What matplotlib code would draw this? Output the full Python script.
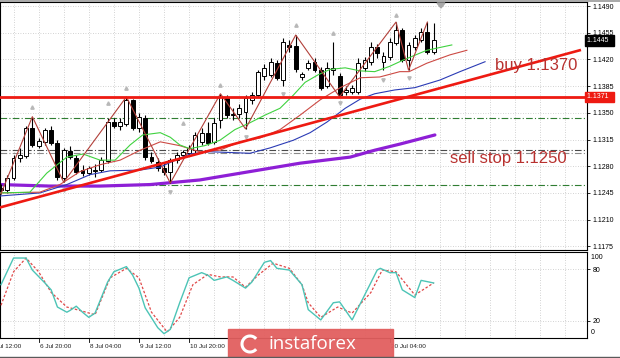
import numpy as np
import matplotlib
matplotlib.use("Agg")
matplotlib.rcParams["font.family"] = "Liberation Sans"
import matplotlib.pyplot as plt
import matplotlib.transforms as mtransforms
from matplotlib.patches import Rectangle, Arc

W, H = 620, 358

# H4 candles (bar 0 = left edge)
opens = [1.1252, 1.1249, 1.1265, 1.1291, 1.1294, 1.1330, 1.1307, 1.1312, 1.1328, 1.1310,
         1.1265, 1.1300, 1.1291, 1.1275, 1.1271, 1.1274, 1.1275, 1.1287, 1.1338, 1.1333,
         1.1335, 1.1367, 1.1330, 1.1343, 1.1292, 1.1286, 1.1278, 1.1273, 1.1288, 1.1295,
         1.1297, 1.1301, 1.1312, 1.1324, 1.1312, 1.1341, 1.1370, 1.1347, 1.1349, 1.1351,
         1.1367, 1.1373, 1.1398, 1.1400, 1.1415, 1.1393, 1.1439, 1.1438, 1.1397, 1.1409,
         1.1417, 1.1406, 1.1385, 1.1406, 1.1398, 1.1377, 1.1377, 1.1377, 1.1409, 1.1417,
         1.1436, 1.1417, 1.1423, 1.1442, 1.1459, 1.1419, 1.1436, 1.1445, 1.1456, 1.1430]
highs = [1.1257, 1.1269, 1.1295, 1.1304, 1.1333, 1.1345, 1.1317, 1.1330, 1.1333, 1.1314,
         1.1304, 1.1307, 1.1295, 1.1282, 1.1280, 1.1283, 1.1292, 1.1343, 1.1343, 1.1343,
         1.1371, 1.1368, 1.1350, 1.1347, 1.1299, 1.1291, 1.1284, 1.1291, 1.1299, 1.1301,
         1.1308, 1.1325, 1.1330, 1.1338, 1.1343, 1.1375, 1.1373, 1.1356, 1.1362, 1.1373,
         1.1377, 1.1406, 1.1414, 1.1422, 1.1419, 1.1448, 1.1445, 1.1452, 1.1404, 1.1419,
         1.1422, 1.1410, 1.1417, 1.1443, 1.1402, 1.1385, 1.1386, 1.1422, 1.1423, 1.1443,
         1.1440, 1.1430, 1.1448, 1.1469, 1.1461, 1.1443, 1.1452, 1.1461, 1.1469, 1.1468]
lows = [1.1244, 1.1245, 1.1262, 1.1286, 1.1291, 1.1305, 1.1304, 1.1308, 1.1308, 1.1262,
        1.1259, 1.1290, 1.1270, 1.1267, 1.1269, 1.1266, 1.1273, 1.1284, 1.1330, 1.1328,
        1.1333, 1.1328, 1.1325, 1.1288, 1.1284, 1.1274, 1.1269, 1.1258, 1.1284, 1.1291,
        1.1294, 1.1297, 1.1308, 1.1308, 1.1309, 1.1330, 1.1343, 1.1341, 1.1343, 1.1329,
        1.1362, 1.1371, 1.1393, 1.1397, 1.1393, 1.1385, 1.1430, 1.1404, 1.1393, 1.1406,
        1.1404, 1.1380, 1.1383, 1.1400, 1.1371, 1.1373, 1.1375, 1.1375, 1.1405, 1.1413,
        1.1422, 1.1406, 1.1419, 1.1439, 1.1417, 1.1406, 1.1432, 1.1443, 1.1427, 1.1427]
closes = [1.1249, 1.1265, 1.1291, 1.1295, 1.1330, 1.1308, 1.1313, 1.1328, 1.1310, 1.1266,
          1.1301, 1.1292, 1.1273, 1.1271, 1.1278, 1.1275, 1.1288, 1.1338, 1.1333, 1.1338,
          1.1367, 1.1330, 1.1345, 1.1292, 1.1287, 1.1278, 1.1273, 1.1288, 1.1295, 1.1299,
          1.1304, 1.1321, 1.1324, 1.1310, 1.1337, 1.1371, 1.1347, 1.1349, 1.1356, 1.1370,
          1.1373, 1.1404, 1.1409, 1.1417, 1.1396, 1.1443, 1.1436, 1.1407, 1.1401, 1.1415,
          1.1406, 1.1383, 1.1409, 1.1409, 1.1373, 1.1380, 1.1383, 1.1415, 1.1419, 1.1436,
          1.1428, 1.1424, 1.1443, 1.1459, 1.1419, 1.1439, 1.1448, 1.1456, 1.1430, 1.1445]

# alligator lines (lips / teeth / jaw), shifted past the last bar
lips_bar = [-0.2, 4.6, 7.3, 10.5, 13.1, 15.8, 18.2, 20.6, 22.6, 25.4, 27.0, 28.5, 30.1, 32.5, 34.9,
            37.3, 39.7, 42.1, 44.5, 46.6, 48.5, 50.6, 52.5, 54.9, 57.3, 59.6, 62.0, 64.1, 67.9, 71.9]
lips_val = [1.1245, 1.1246, 1.1271, 1.1292, 1.1296, 1.1288, 1.1288, 1.1308, 1.1321, 1.1324, 1.1318,
            1.1308, 1.1303, 1.1307, 1.1314, 1.1328, 1.1337, 1.1347, 1.1356, 1.1373, 1.1390, 1.1400,
            1.1407, 1.1409, 1.1405, 1.1404, 1.1411, 1.1419, 1.1432, 1.1439]
teeth_bar = [-0.2, 6.2, 9.4, 12.6, 15.8, 19.0, 22.2, 25.4, 28.5, 31.7, 34.9, 38.1, 41.3, 44.5,
             47.7, 50.9, 54.1, 57.3, 60.4, 63.6, 65.1, 67.9, 71.6, 74.3]
teeth_val = [1.1245, 1.1246, 1.1256, 1.1273, 1.1282, 1.1288, 1.1301, 1.1312, 1.1307, 1.1299,
             1.1301, 1.1312, 1.1317, 1.1328, 1.1347, 1.1367, 1.1383, 1.1396, 1.1397, 1.1404,
             1.1404, 1.1415, 1.1426, 1.1432]
jaw_bar = [-0.2, 6.2, 10.5, 14.2, 17.4, 22.2, 25.4, 27.8, 30.1, 33.3, 39.7, 42.9, 46.6, 49.3,
           52.0, 54.9, 57.3, 59.6, 62.8, 66.0, 70.0, 73.2, 77.2]
jaw_val = [1.1241, 1.1245, 1.1256, 1.1269, 1.1274, 1.1275, 1.1279, 1.1288, 1.1296, 1.1299,
           1.1297, 1.1304, 1.1314, 1.1324, 1.1338, 1.1356, 1.1368, 1.1375, 1.1380, 1.1383,
           1.1393, 1.1404, 1.1417]
slow_bar = [-0.2, 7.8, 15.8, 23.8, 31.7, 39.7, 47.7, 55.7, 59.6, 63.6, 69.2]
slow_val = [1.1256, 1.1254, 1.1254, 1.1256, 1.1262, 1.1273, 1.1284, 1.1292, 1.1301, 1.1309, 1.1321]

zz_bar = [0, 5, 10, 20, 27, 35, 39, 47, 54, 63, 65, 68]
zz_val = [1.1244, 1.1345, 1.1259, 1.1371, 1.1258, 1.1375, 1.1329, 1.1452, 1.1371, 1.1469, 1.1406, 1.1469]

frac_up_bar = [5, 17, 20, 35, 47, 53, 63, 29]
frac_up_val = [1.1358, 1.1363, 1.1383, 1.1386, 1.1465, 1.1455, 1.1478, 1.1337]
frac_dn_bar = [10, 27, 39, 45, 54, 61, 65]
frac_dn_val = [1.1249, 1.1246, 1.1318, 1.1375, 1.1363, 1.1393, 1.1396]

# drawn objects
trend_bar = [-0.16, 92.3]
trend_val = [1.1226, 1.1432]
level_buy = 1.1371
green_levels = [1.1343, 1.1256]
grey_levels = [1.1301, 1.1297]

# stochastic %K / %D
k_bar = [0, 2, 4, 5, 7, 8, 9, 10.5, 11, 12, 13, 14, 15, 17, 18, 20, 21, 22, 23, 25, 26, 27, 28.5,
         30, 32, 33, 34, 36, 37, 39, 40, 42, 43, 44, 46, 48, 49, 51, 53, 54, 56, 58, 60, 60.5, 62,
         63, 64, 66, 67, 69]
k_val = [62, 93, 93, 79, 64, 56, 36, 30, 32, 37, 30, 24, 29, 65, 77, 83, 73, 58, 35, 12, 5, 10, 41,
         70, 76, 73, 67, 71, 67, 58, 65, 88, 90, 81, 79, 62, 33, 21, 41, 42, 21, 50, 79, 81, 76,
         76, 56, 47, 67, 64]
d_bar = [0, 2, 4, 6, 8, 10.5, 12.6, 15, 17.4, 20, 22, 24, 26.5, 28.5, 30.6, 33, 35, 37, 39, 41,
         43.4, 46, 48, 49, 51, 53.7, 56, 59, 60.8, 63, 66, 69]
d_val = [38, 77, 93, 77, 53, 36, 32, 27, 70, 81, 70, 30, 7, 24, 62, 74, 71, 71, 59, 73,
         87, 81, 62, 41, 24, 36, 29, 53, 79, 77, 50, 64]

price_ticks = [1.1490, 1.1455, 1.1420, 1.1385, 1.1350, 1.1315, 1.1280, 1.1245, 1.1210, 1.1175]
# labels under the watermark are not visible, so only these are drawn
time_bars = [-2, 6, 14, 22, 30, 62]
time_labels = ["5 Jul 12:00", "6 Jul 20:00", "8 Jul 04:00", "9 Jul 12:00", "10 Jul 20:00",
               "20 Jul 04:00"]
last_price = 1.1445


def box(x0, y0, x1, y1):
    return [x0 / W, 1 - y1 / H, (x1 - x0) / W, (y1 - y0) / H]


fig = plt.figure(figsize=(W / 100, H / 100), dpi=100, facecolor="white")
ax = fig.add_axes(box(0, 2, 587, 250))
ax2 = fig.add_axes(box(0, 252, 587, 338))

XMIN, XMAX = -0.16, 93.46
GRID = dict(color="#c4c4c4", linestyle=(0, (1, 2)), linewidth=0.6)

for a in (ax, ax2):
    a.set_xlim(XMIN, XMAX)
    a.set_xticks(np.arange(2, 94, 4))
    a.tick_params(axis="x", length=0, labelbottom=False)
    a.grid(True, **GRID)
    a.set_axisbelow(True)
    for s in a.spines.values():
        s.set_color("black")
        s.set_linewidth(0.8)
    a.yaxis.tick_right()
    a.tick_params(axis="y", length=2.5, width=0.6, pad=1.5, labelsize=5, colors="black")

# main panel
ax.set_ylim(1.11702, 1.14953)
ax.set_yticks(price_ticks)
ax.set_yticklabels([f"{p:.4f}" for p in price_ticks])

for lv in green_levels:
    ax.axhline(lv, color="#2f7d32", lw=0.8, ls=(0, (6, 2, 1, 2)), zorder=1)
ax.axhline(grey_levels[0], color="#4a4a4a", lw=0.8, ls=(0, (6, 2, 1, 2)), zorder=1)
ax.axhline(grey_levels[1], color="#8a8a8a", lw=0.8, ls=(0, (6, 2, 1, 2)), zorder=1)

ax.plot(slow_bar, slow_val, color="#8e1fd6", lw=2.3, zorder=2, solid_capstyle="round")

bars = np.arange(len(closes))
o, h, l, c = map(np.array, (opens, highs, lows, closes))
up = c >= o
ax.vlines(bars, l, h, color="black", lw=0.8, zorder=3)
ax.bar(bars, np.maximum(np.abs(c - o), 0.00006), bottom=np.minimum(o, c), width=0.62,
       color=np.where(up, "white", "black"), edgecolor="black", linewidth=0.7, zorder=4)

ax.plot(jaw_bar, jaw_val, color="#2b3bb5", lw=0.8, zorder=5)
ax.plot(teeth_bar, teeth_val, color="#cc4a44", lw=0.8, zorder=5)
ax.plot(lips_bar, lips_val, color="#3fd23f", lw=0.8, zorder=5)
ax.plot(zz_bar, zz_val, color="#b2403a", lw=0.8, zorder=6)
ax.plot(frac_up_bar, frac_up_val, ls="none", marker="^", ms=2.4, color="#b8b8b8", zorder=6)
ax.plot(frac_dn_bar, frac_dn_val, ls="none", marker="v", ms=2.4, color="#b8b8b8", zorder=6)

ax.axhline(level_buy, color="#ee1a12", lw=2.0, zorder=7)
ax.plot(trend_bar, trend_val, color="#ee1a12", lw=1.9, zorder=7)

ax.text(78.8, 1.1406, "buy 1.1370", fontsize=12, color="#b8312f", ha="left", va="baseline", zorder=8)
ax.text(71.6, 1.1284, "sell stop 1.1250", fontsize=12, color="#b8312f", ha="left", va="baseline", zorder=8)

yt = mtransforms.blended_transform_factory(ax.transAxes, ax.transData)
ax.text(1.0, last_price, f"{last_price:.4f}  ", transform=yt, fontsize=5, color="white",
        ha="left", va="center", zorder=9, clip_on=False,
        bbox=dict(boxstyle="square,pad=0.25", fc="black", ec="black"))
ax.text(1.0, level_buy, f"{level_buy:.4f}  ", transform=yt, fontsize=5, color="white",
        ha="left", va="center", zorder=9, clip_on=False,
        bbox=dict(boxstyle="square,pad=0.25", fc="#ee1a12", ec="#ee1a12"))

# stochastic panel
ax2.set_ylim(0, 100)
ax2.set_yticks([20, 80])
ax2.set_yticklabels(["20", "80"])
ax2.plot(d_bar, d_val, color="#e04848", lw=0.9, ls=(0, (2, 1.5)), zorder=3)
ax2.plot(k_bar, k_val, color="#4cc4b6", lw=1.0, zorder=4)
st = mtransforms.blended_transform_factory(ax2.transAxes, ax2.transData)
ax2.text(1.0, 94, "  100", transform=st, fontsize=5, ha="left", va="center")
ax2.text(1.0, 6, "  0", transform=st, fontsize=5, ha="left", va="center")

tt = mtransforms.blended_transform_factory(ax2.transData, ax2.transAxes)
for b, lab in zip(time_bars, time_labels):
    ax2.plot([b, b], [0, -0.05], transform=tt, color="black", lw=0.6, clip_on=False)
    ax2.text(b + 0.2, -0.095, lab, transform=tt, fontsize=4.6, ha="left", va="center",
             color="#202020", clip_on=False)

# frame lines, chart-shift marker and watermark, in pixel units
ov = fig.add_axes([0, 0, 1, 1], zorder=10)
ov.set_xlim(0, W)
ov.set_ylim(H, 0)
ov.axis("off")
ov.patch.set_alpha(0)
ov.plot([0, W], [0.6, 0.6], color="#9a9a9a", lw=1.2)
ov.plot([0, W], [356.5, 356.5], color="#5a5a5a", lw=1.0)
ov.fill([437, 445, 441], [3, 3, 8], color="#a8a8a8")
ov.add_patch(Rectangle((228, 329), 165, 30, color="#e25f5f", alpha=0.95))
ov.add_patch(Arc((250, 344), 16, 16, theta1=40, theta2=320, color="white", lw=2.2))
ov.text(268, 344, "instaforex", fontsize=13.5, color="white", ha="left", va="center",
        family="Open Sans")

fig.savefig("out.png", dpi=100, facecolor="white")
